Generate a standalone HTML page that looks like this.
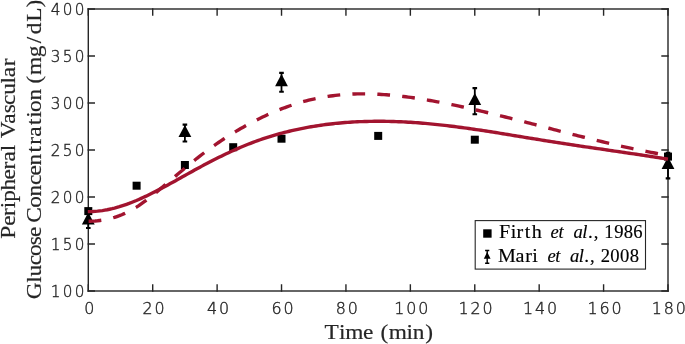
<!DOCTYPE html>
<html><head><meta charset="utf-8"><title>Glucose</title>
<style>html,body{margin:0;padding:0;background:#fff}svg{display:block}</style></head>
<body>
<svg width="685" height="344" viewBox="0 0 685 344">
<rect width="685" height="344" fill="#fff"/>
<g stroke="#262626" stroke-width="1.4" fill="none" stroke-linecap="square">
<rect x="88.3" y="9.0" width="579.7" height="282.0"/>
<path d="M88.30,291.0 v-6 M88.30,9.0 v6"/>
<path d="M152.71,291.0 v-6 M152.71,9.0 v6"/>
<path d="M217.12,291.0 v-6 M217.12,9.0 v6"/>
<path d="M281.53,291.0 v-6 M281.53,9.0 v6"/>
<path d="M345.94,291.0 v-6 M345.94,9.0 v6"/>
<path d="M410.36,291.0 v-6 M410.36,9.0 v6"/>
<path d="M474.77,291.0 v-6 M474.77,9.0 v6"/>
<path d="M539.18,291.0 v-6 M539.18,9.0 v6"/>
<path d="M603.59,291.0 v-6 M603.59,9.0 v6"/>
<path d="M668.00,291.0 v-6 M668.00,9.0 v6"/>
<path d="M88.3,291.00 h6 M668.0,291.00 h-6"/>
<path d="M88.3,244.00 h6 M668.0,244.00 h-6"/>
<path d="M88.3,197.00 h6 M668.0,197.00 h-6"/>
<path d="M88.3,150.00 h6 M668.0,150.00 h-6"/>
<path d="M88.3,103.00 h6 M668.0,103.00 h-6"/>
<path d="M88.3,56.00 h6 M668.0,56.00 h-6"/>
<path d="M88.3,9.00 h6 M668.0,9.00 h-6"/>
</g>
<g font-family="'DejaVu Sans Light', 'DejaVu Sans', 'Liberation Sans', sans-serif" font-weight="200" font-size="15.9" fill="#262626" stroke="#262626" stroke-width="0.4">
<text transform="translate(84.14,314.30) scale(1.0,1)" letter-spacing="1.89">0</text>
<text transform="translate(142.55,314.30) scale(1.0,1)" letter-spacing="1.89">20</text>
<text transform="translate(206.97,314.30) scale(1.0,1)" letter-spacing="1.89">40</text>
<text transform="translate(271.38,314.30) scale(1.0,1)" letter-spacing="1.89">60</text>
<text transform="translate(335.79,314.30) scale(1.0,1)" letter-spacing="1.89">80</text>
<text transform="translate(394.20,314.30) scale(1.0,1)" letter-spacing="1.89">100</text>
<text transform="translate(458.61,314.30) scale(1.0,1)" letter-spacing="1.89">120</text>
<text transform="translate(523.02,314.30) scale(1.0,1)" letter-spacing="1.89">140</text>
<text transform="translate(587.43,314.30) scale(1.0,1)" letter-spacing="1.89">160</text>
<text transform="translate(651.84,314.30) scale(1.0,1)" letter-spacing="1.89">180</text>
<text transform="translate(50.81,296.90) scale(0.96,1)" letter-spacing="2.39">100</text>
<text transform="translate(50.81,249.90) scale(0.96,1)" letter-spacing="2.39">150</text>
<text transform="translate(50.81,202.90) scale(0.96,1)" letter-spacing="2.39">200</text>
<text transform="translate(50.81,155.90) scale(0.96,1)" letter-spacing="2.39">250</text>
<text transform="translate(50.81,108.90) scale(0.96,1)" letter-spacing="2.39">300</text>
<text transform="translate(50.81,61.90) scale(0.96,1)" letter-spacing="2.39">350</text>
<text transform="translate(50.81,14.90) scale(0.96,1)" letter-spacing="2.39">400</text>
</g>
<g font-family="'Liberation Serif', serif" fill="#262626" stroke="#262626" stroke-width="0.18">
<text transform="translate(323.72,338.50) scale(1.08,1)" x="0.63 14.25 19.95 36.38" font-size="21.6">Time</text>
<text transform="translate(380.44,338.50) scale(1.08,1)" x="0.16 7.63 24.15 30.01 41.46" font-size="21.6">(min)</text>
<text transform="translate(14.70,239.49) rotate(-90) scale(1.08,1)" x="0.70 12.62 21.83 29.00 34.93 45.47 55.66 64.87 72.19 81.73" font-size="21.6">Peripheral</text>
<text transform="translate(14.70,137.93) rotate(-90) scale(1.08,1)" x="-0.37 13.14 22.78 30.47 39.90 50.51 56.20 66.34" font-size="21.6">Vascular</text>
<text transform="translate(40.50,298.88) rotate(-90) scale(1.08,1)" x="-0.25 15.03 20.81 31.05 39.75 49.62 57.22" font-size="21.6">Glucose</text>
<text transform="translate(40.50,223.01) rotate(-90) scale(1.08,1)" x="0.17 14.03 24.49 35.10 44.01 53.36 65.24 72.36 79.96 90.83 97.51 102.90 113.37" font-size="21.6">Concentration</text>
<text transform="translate(40.50,83.83) rotate(-90) scale(1.08,1)" x="0.29 8.15 24.70 37.67 45.90 57.47 70.72" font-size="21.6">(mg/dL)</text>
</g>
<g fill="#000" stroke="none">
<rect x="84.3" y="207.1" width="8" height="8"/>
<rect x="132.6" y="181.7" width="8" height="8"/>
<rect x="180.9" y="161.0" width="8" height="8"/>
<rect x="229.2" y="143.2" width="8" height="8"/>
<rect x="277.5" y="134.7" width="8" height="8"/>
<rect x="374.2" y="131.9" width="8" height="8"/>
<rect x="470.8" y="135.7" width="8" height="8"/>
<rect x="664.0" y="152.6" width="8" height="8"/>
</g>
<g fill="#000" stroke="#000" stroke-width="1.8">
<path d="M88.3,213.0 V228.0" fill="none"/>
<path d="M86.0,213.0 h4.6 M86.0,228.0 h4.6" fill="none" stroke-width="2.1"/>
<path d="M88.3,212.3 L94.7,224.4 H81.9 Z" stroke="none"/>
<path d="M184.9,124.6 V141.5" fill="none"/>
<path d="M182.6,124.6 h4.6 M182.6,141.5 h4.6" fill="none" stroke-width="2.1"/>
<path d="M184.9,124.9 L191.3,137.0 H178.5 Z" stroke="none"/>
<path d="M281.5,72.9 V91.7" fill="none"/>
<path d="M279.2,72.9 h4.6 M279.2,91.7 h4.6" fill="none" stroke-width="2.1"/>
<path d="M281.5,74.1 L287.9,86.2 H275.1 Z" stroke="none"/>
<path d="M474.8,88.1 V114.2" fill="none"/>
<path d="M472.5,88.1 h4.6 M472.5,114.2 h4.6" fill="none" stroke-width="2.1"/>
<path d="M474.8,92.9 L481.2,105.0 H468.4 Z" stroke="none"/>
<path d="M668.0,152.8 V178.4" fill="none"/>
<path d="M665.7,152.8 h4.6 M665.7,178.4 h4.6" fill="none" stroke-width="2.1"/>
<path d="M668.0,156.8 L674.4,168.9 H661.6 Z" stroke="none"/>
</g>
<path d="M87.8,211.60 L90.2,211.58 L92.7,211.50 L95.1,211.36 L97.5,211.16 L99.9,210.89 L102.4,210.57 L104.8,210.18 L107.2,209.74 L109.6,209.24 L112.1,208.68 L114.5,208.08 L116.9,207.42 L119.4,206.71 L121.8,205.95 L124.2,205.15 L126.6,204.30 L129.1,203.41 L131.5,202.48 L133.9,201.51 L136.4,200.51 L138.8,199.47 L141.2,198.39 L143.6,197.29 L146.1,196.16 L148.5,194.99 L150.9,193.81 L153.3,192.60 L155.8,191.36 L158.2,190.11 L160.6,188.84 L163.1,187.55 L165.5,186.24 L167.9,184.92 L170.3,183.60 L172.8,182.26 L175.2,180.91 L177.6,179.56 L180.0,178.20 L182.5,176.85 L184.9,175.49 L187.3,174.13 L189.8,172.78 L192.2,171.43 L194.6,170.08 L197.0,168.75 L199.5,167.43 L201.9,166.12 L204.3,164.82 L206.8,163.54 L209.2,162.27 L211.6,161.01 L214.0,159.77 L216.5,158.55 L218.9,157.34 L221.3,156.15 L223.7,154.97 L226.2,153.82 L228.6,152.68 L231.0,151.56 L233.5,150.46 L235.9,149.38 L238.3,148.32 L240.7,147.28 L243.2,146.26 L245.6,145.26 L248.0,144.29 L250.5,143.33 L252.9,142.40 L255.3,141.50 L257.7,140.62 L260.2,139.76 L262.6,138.93 L265.0,138.12 L267.4,137.33 L269.9,136.57 L272.3,135.82 L274.7,135.10 L277.2,134.41 L279.6,133.73 L282.0,133.07 L284.4,132.44 L286.9,131.83 L289.3,131.23 L291.7,130.66 L294.1,130.10 L296.6,129.57 L299.0,129.05 L301.4,128.56 L303.9,128.08 L306.3,127.62 L308.7,127.17 L311.1,126.75 L313.6,126.34 L316.0,125.95 L318.4,125.58 L320.9,125.22 L323.3,124.88 L325.7,124.56 L328.1,124.25 L330.6,123.96 L333.0,123.69 L335.4,123.43 L337.8,123.19 L340.3,122.96 L342.7,122.75 L345.1,122.55 L347.6,122.37 L350.0,122.20 L352.4,122.05 L354.8,121.91 L357.3,121.78 L359.7,121.67 L362.1,121.58 L364.5,121.50 L367.0,121.43 L369.4,121.37 L371.8,121.33 L374.3,121.30 L376.7,121.29 L379.1,121.28 L381.5,121.29 L384.0,121.31 L386.4,121.35 L388.8,121.39 L391.3,121.45 L393.7,121.52 L396.1,121.60 L398.5,121.69 L401.0,121.80 L403.4,121.91 L405.8,122.04 L408.2,122.18 L410.7,122.32 L413.1,122.48 L415.5,122.65 L418.0,122.82 L420.4,123.01 L422.8,123.21 L425.2,123.42 L427.7,123.63 L430.1,123.86 L432.5,124.09 L434.9,124.33 L437.4,124.58 L439.8,124.84 L442.2,125.11 L444.7,125.39 L447.1,125.67 L449.5,125.96 L451.9,126.26 L454.4,126.56 L456.8,126.87 L459.2,127.19 L461.7,127.51 L464.1,127.84 L466.5,128.18 L468.9,128.52 L471.4,128.86 L473.8,129.21 L476.2,129.57 L478.6,129.93 L481.1,130.29 L483.5,130.66 L485.9,131.03 L488.4,131.41 L490.8,131.79 L493.2,132.17 L495.6,132.55 L498.1,132.94 L500.5,133.33 L502.9,133.72 L505.3,134.12 L507.8,134.51 L510.2,134.91 L512.6,135.31 L515.1,135.70 L517.5,136.10 L519.9,136.50 L522.3,136.90 L524.8,137.31 L527.2,137.71 L529.6,138.10 L532.1,138.50 L534.5,138.90 L536.9,139.30 L539.3,139.69 L541.8,140.09 L544.2,140.48 L546.6,140.87 L549.0,141.26 L551.5,141.64 L553.9,142.02 L556.3,142.40 L558.8,142.78 L561.2,143.15 L563.6,143.53 L566.0,143.90 L568.5,144.27 L570.9,144.63 L573.3,145.00 L575.8,145.36 L578.2,145.73 L580.6,146.09 L583.0,146.45 L585.5,146.81 L587.9,147.16 L590.3,147.52 L592.7,147.88 L595.2,148.23 L597.6,148.59 L600.0,148.94 L602.5,149.30 L604.9,149.65 L607.3,150.00 L609.7,150.36 L612.2,150.71 L614.6,151.07 L617.0,151.42 L619.4,151.78 L621.9,152.14 L624.3,152.49 L626.7,152.85 L629.2,153.21 L631.6,153.57 L634.0,153.93 L636.4,154.30 L638.9,154.66 L641.3,155.03 L643.7,155.39 L646.2,155.76 L648.6,156.14 L651.0,156.51 L653.4,156.89 L655.9,157.26 L658.3,157.65 L660.7,158.03 L663.1,158.41 L665.6,158.80 L668.0,159.19" fill="none" stroke="#A2142F" stroke-width="3.4" stroke-linejoin="round"/>
<path d="M87.8,221.21 L90.2,221.20 L92.7,221.12 L95.1,220.98 L97.5,220.76 L99.9,220.48 L102.4,220.14 L104.8,219.72 L107.2,219.23 L109.6,218.67 L112.1,218.04 L114.5,217.33 L116.9,216.54 L119.4,215.67 L121.8,214.71 L124.2,213.68 L126.6,212.55 L129.1,211.34 L131.5,210.04 L133.9,208.65 L136.4,207.16 L138.8,205.58 L141.2,203.92 L143.6,202.19 L146.1,200.39 L148.5,198.53 L150.9,196.63 L153.3,194.68 L155.8,192.69 L158.2,190.68 L160.6,188.65 L163.1,186.62 L165.5,184.57 L167.9,182.51 L170.3,180.45 L172.8,178.39 L175.2,176.34 L177.6,174.28 L180.0,172.23 L182.5,170.20 L184.9,168.17 L187.3,166.16 L189.8,164.16 L192.2,162.18 L194.6,160.23 L197.0,158.30 L199.5,156.40 L201.9,154.52 L204.3,152.68 L206.8,150.87 L209.2,149.09 L211.6,147.33 L214.0,145.61 L216.5,143.91 L218.9,142.25 L221.3,140.61 L223.7,139.00 L226.2,137.42 L228.6,135.87 L231.0,134.35 L233.5,132.86 L235.9,131.39 L238.3,129.95 L240.7,128.54 L243.2,127.16 L245.6,125.81 L248.0,124.48 L250.5,123.18 L252.9,121.90 L255.3,120.65 L257.7,119.43 L260.2,118.24 L262.6,117.07 L265.0,115.93 L267.4,114.81 L269.9,113.72 L272.3,112.66 L274.7,111.63 L277.2,110.62 L279.6,109.65 L282.0,108.70 L284.4,107.78 L286.9,106.89 L289.3,106.02 L291.7,105.19 L294.1,104.39 L296.6,103.61 L299.0,102.87 L301.4,102.16 L303.9,101.48 L306.3,100.83 L308.7,100.21 L311.1,99.62 L313.6,99.06 L316.0,98.54 L318.4,98.04 L320.9,97.58 L323.3,97.14 L325.7,96.74 L328.1,96.36 L330.6,96.01 L333.0,95.69 L335.4,95.40 L337.8,95.13 L340.3,94.89 L342.7,94.68 L345.1,94.49 L347.6,94.33 L350.0,94.19 L352.4,94.07 L354.8,93.98 L357.3,93.92 L359.7,93.87 L362.1,93.85 L364.5,93.85 L367.0,93.87 L369.4,93.92 L371.8,93.98 L374.3,94.06 L376.7,94.17 L379.1,94.29 L381.5,94.43 L384.0,94.59 L386.4,94.77 L388.8,94.96 L391.3,95.17 L393.7,95.40 L396.1,95.65 L398.5,95.91 L401.0,96.18 L403.4,96.47 L405.8,96.78 L408.2,97.09 L410.7,97.42 L413.1,97.77 L415.5,98.12 L418.0,98.49 L420.4,98.87 L422.8,99.26 L425.2,99.67 L427.7,100.08 L430.1,100.50 L432.5,100.93 L434.9,101.37 L437.4,101.82 L439.8,102.27 L442.2,102.74 L444.7,103.21 L447.1,103.69 L449.5,104.18 L451.9,104.67 L454.4,105.17 L456.8,105.68 L459.2,106.19 L461.7,106.72 L464.1,107.24 L466.5,107.78 L468.9,108.32 L471.4,108.86 L473.8,109.41 L476.2,109.97 L478.6,110.53 L481.1,111.10 L483.5,111.67 L485.9,112.24 L488.4,112.82 L490.8,113.41 L493.2,114.00 L495.6,114.59 L498.1,115.19 L500.5,115.79 L502.9,116.39 L505.3,117.00 L507.8,117.61 L510.2,118.22 L512.6,118.84 L515.1,119.45 L517.5,120.07 L519.9,120.70 L522.3,121.32 L524.8,121.95 L527.2,122.57 L529.6,123.20 L532.1,123.83 L534.5,124.46 L536.9,125.09 L539.3,125.73 L541.8,126.36 L544.2,126.99 L546.6,127.63 L549.0,128.26 L551.5,128.89 L553.9,129.52 L556.3,130.15 L558.8,130.79 L561.2,131.42 L563.6,132.04 L566.0,132.67 L568.5,133.30 L570.9,133.92 L573.3,134.54 L575.8,135.16 L578.2,135.78 L580.6,136.39 L583.0,137.01 L585.5,137.62 L587.9,138.22 L590.3,138.82 L592.7,139.42 L595.2,140.02 L597.6,140.61 L600.0,141.20 L602.5,141.78 L604.9,142.36 L607.3,142.94 L609.7,143.51 L612.2,144.08 L614.6,144.64 L617.0,145.19 L619.4,145.74 L621.9,146.29 L624.3,146.83 L626.7,147.36 L629.2,147.89 L631.6,148.41 L634.0,148.92 L636.4,149.43 L638.9,149.93 L641.3,150.42 L643.7,150.90 L646.2,151.38 L648.6,151.85 L651.0,152.32 L653.4,152.77 L655.9,153.22 L658.3,153.66 L660.7,154.09 L663.1,154.51 L665.6,154.92 L668.0,155.32" fill="none" stroke="#A2142F" stroke-width="3.4" stroke-dasharray="12.75 12.2" stroke-dashoffset="-0.8" stroke-linejoin="round"/>
<rect x="475.2" y="220.6" width="170.3" height="48.5" fill="#fff" stroke="#262626" stroke-width="1.1"/>
<rect x="483.2" y="229.3" width="8.4" height="8.4" fill="#000"/>
<g stroke="#000" stroke-width="1.4" fill="none"><path d="M487.2,250.5 V263.2 M485.1,250.5 h4.2 M485.1,263.2 h4.2"/></g>
<path d="M487.2,252 L490.6,258.7 H483.8 Z" fill="#000"/>
<g font-family="'Liberation Serif', serif" fill="#000" stroke="#000" stroke-width="0.15">
<text transform="translate(498.16,237.70) scale(1.08,1)" x="0.75 11.60 17.01 24.59 31.07" font-size="18.6">Firth</text>
<text transform="translate(550.78,237.70) scale(1.0,1)" x="-0.21 7.70" font-size="18.6" font-style="italic">et</text>
<text transform="translate(573.25,237.70) scale(1.0,1)" x="0.20 9.06 15.32 20.55" font-size="18.6"><tspan font-style="italic">al.</tspan>,</text>
<text transform="translate(604.48,237.70) scale(1.0,1)" x="-0.12 9.79 19.28 28.73" font-size="18.6">1986</text>
<text transform="translate(498.10,261.70) scale(1.08,1)" x="-0.19 16.22 25.19 31.69" font-size="18.6">Mari</text>
<text transform="translate(547.68,261.70) scale(1.0,1)" x="-0.24 7.62" font-size="18.6" font-style="italic">et</text>
<text transform="translate(569.76,261.70) scale(1.0,1)" x="0.13 8.91 15.09 20.26" font-size="18.6"><tspan font-style="italic">al.</tspan>,</text>
<text transform="translate(600.33,261.70) scale(1.0,1)" x="0.32 9.96 19.70 29.43" font-size="18.6">2008</text>
</g>
</svg>
</body></html>
